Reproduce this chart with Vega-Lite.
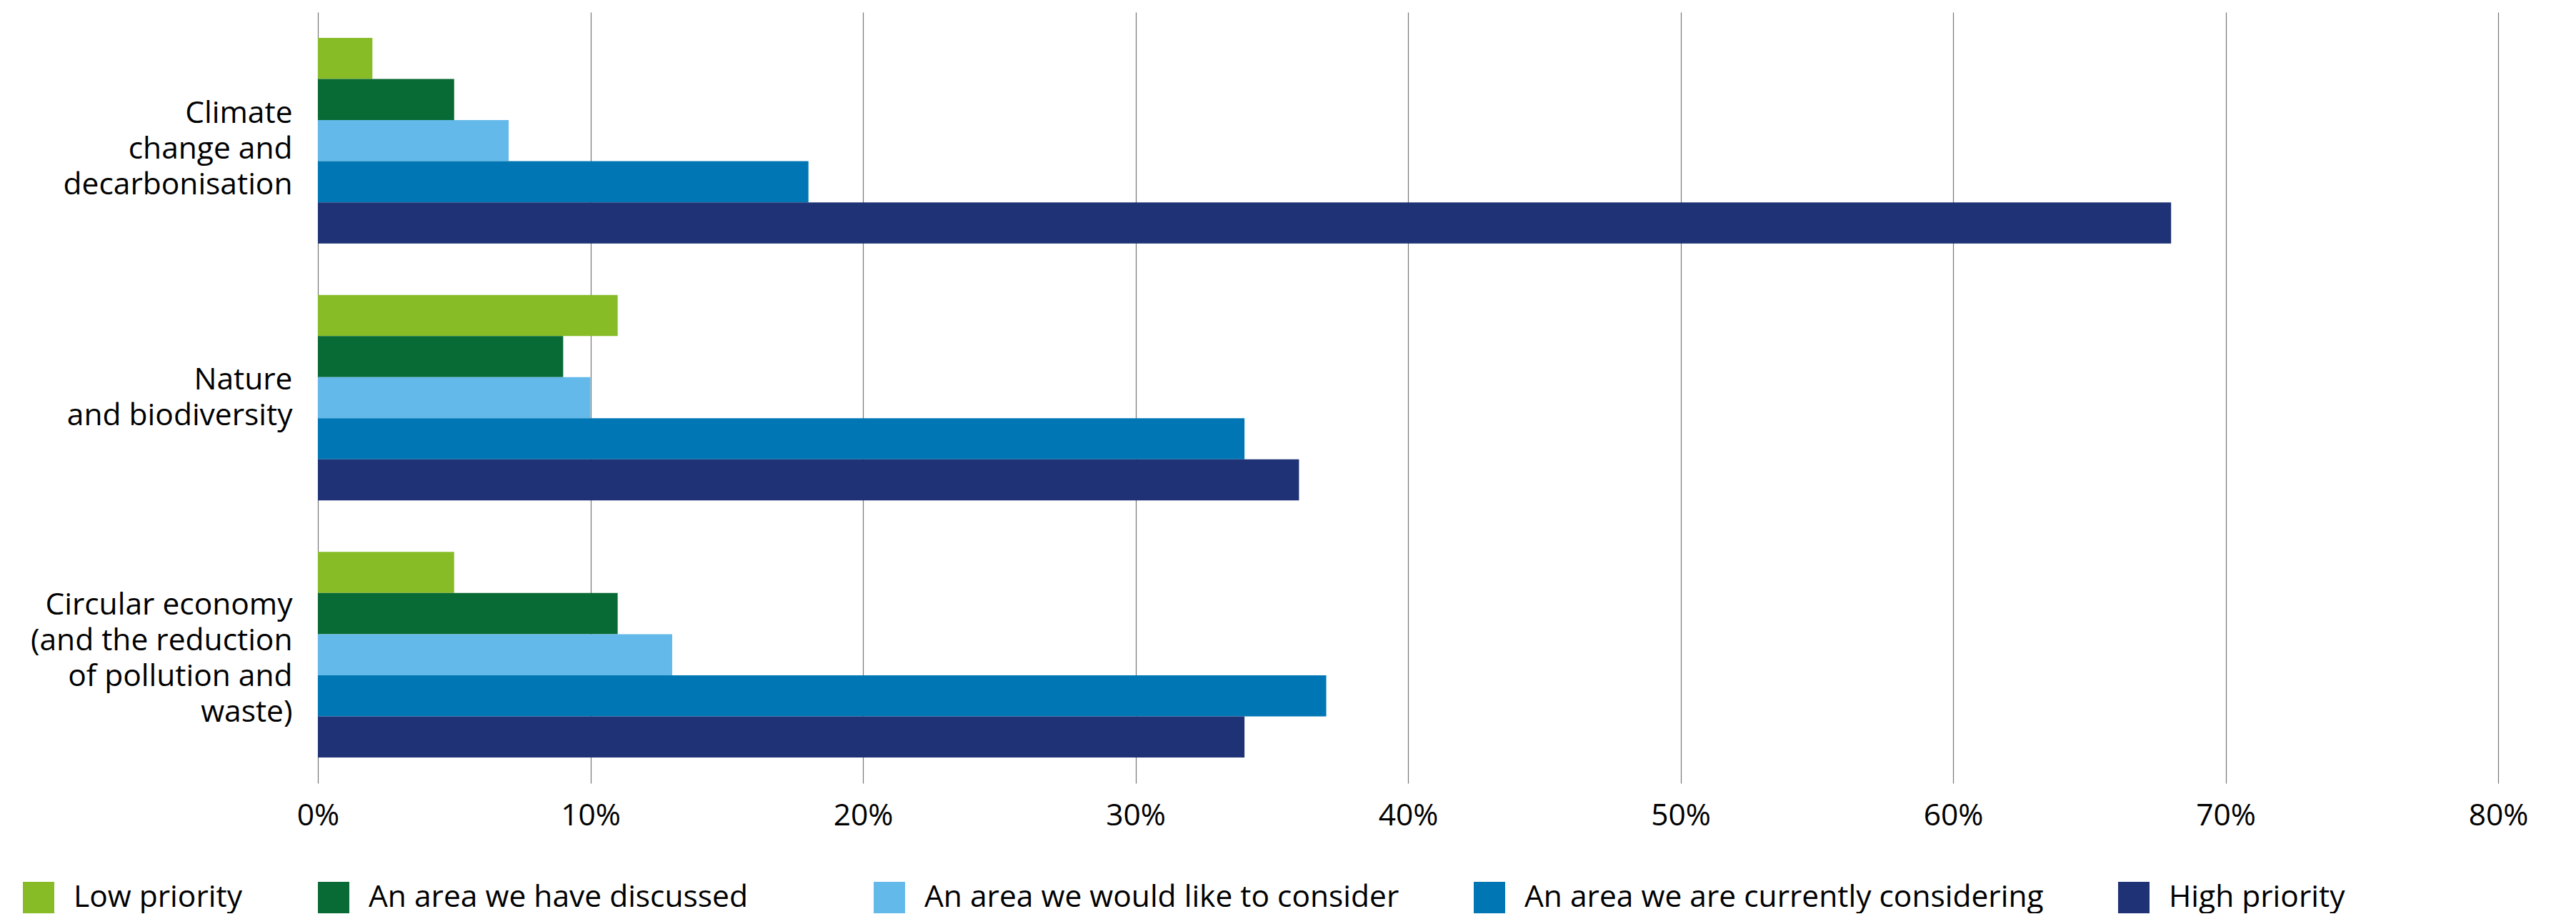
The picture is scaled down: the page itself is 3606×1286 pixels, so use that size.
{
  "$schema": "https://vega.github.io/schema/vega-lite/v6.json",
  "width": 3052,
  "height": 1079,
  "padding": {"left": 0, "top": 17, "right": 60, "bottom": 0},
  "config": {"font": "Open Sans", "view": {"stroke": null}},
  "data": {
    "values": [
      {"topic": "Climate|change and|decarbonisation", "series": "Low priority", "value": 2},
      {"topic": "Climate|change and|decarbonisation", "series": "An area we have discussed", "value": 5},
      {"topic": "Climate|change and|decarbonisation", "series": "An area we would like to consider", "value": 7},
      {"topic": "Climate|change and|decarbonisation", "series": "An area we are currently considering", "value": 18},
      {"topic": "Climate|change and|decarbonisation", "series": "High priority", "value": 68},
      {"topic": "Nature|and biodiversity", "series": "Low priority", "value": 11},
      {"topic": "Nature|and biodiversity", "series": "An area we have discussed", "value": 9},
      {"topic": "Nature|and biodiversity", "series": "An area we would like to consider", "value": 10},
      {"topic": "Nature|and biodiversity", "series": "An area we are currently considering", "value": 34},
      {"topic": "Nature|and biodiversity", "series": "High priority", "value": 36},
      {"topic": "Circular economy|(and the reduction|of pollution and|waste)", "series": "Low priority", "value": 5},
      {"topic": "Circular economy|(and the reduction|of pollution and|waste)", "series": "An area we have discussed", "value": 11},
      {"topic": "Circular economy|(and the reduction|of pollution and|waste)", "series": "An area we would like to consider", "value": 13},
      {"topic": "Circular economy|(and the reduction|of pollution and|waste)", "series": "An area we are currently considering", "value": 37},
      {"topic": "Circular economy|(and the reduction|of pollution and|waste)", "series": "High priority", "value": 34}
    ]
  },
  "encoding": {
    "y": {
      "field": "topic",
      "type": "nominal",
      "sort": ["Climate|change and|decarbonisation", "Nature|and biodiversity", "Circular economy|(and the reduction|of pollution and|waste)"],
      "scale": {"paddingInner": 0.2, "paddingOuter": 0.1},
      "axis": {
        "title": null,
        "labelExpr": "split(datum.label, '|')",
        "labelFontSize": 42.5,
        "labelLineHeight": 50,
        "labelColor": "#000000",
        "labelAlign": "right",
        "labelBaseline": "middle",
        "labelPadding": 36,
        "labelLimit": 1000,
        "labelOffset": {
          "condition": [
            {"test": "indexof(datum.value, 'Climate') === 0", "value": -38},
            {"test": "indexof(datum.value, 'Nature') === 0", "value": -25}
          ],
          "value": -69
        },
        "ticks": false,
        "domain": false,
        "grid": false,
        "minExtent": 445,
        "maxExtent": 445
      }
    },
    "yOffset": {
      "field": "series",
      "type": "nominal",
      "scale": {
        "domain": ["Low priority", "An area we have discussed", "An area we would like to consider", "An area we are currently considering", "High priority"],
        "paddingInner": 0,
        "paddingOuter": 0
      }
    },
    "x": {
      "field": "value",
      "type": "quantitative",
      "scale": {"domain": [0, 80], "nice": false},
      "axis": {
        "title": null,
        "values": [0, 10, 20, 30, 40, 50, 60, 70, 80],
        "labelExpr": "datum.value + '%'",
        "labelFontSize": 42.5,
        "labelColor": "#000000",
        "labelPadding": 24,
        "labelFlush": false,
        "ticks": false,
        "domain": false,
        "grid": true,
        "gridColor": "#777777",
        "gridWidth": 1.2
      }
    }
  },
  "layer": [
    {
      "transform": [{"filter": "datum.series == 'Low priority' || datum.series == 'An area we have discussed'"}],
      "mark": {"type": "bar", "strokeWidth": 0},
      "encoding": {
        "fill": {
          "field": "series",
          "type": "nominal",
          "scale": {
            "domain": ["Low priority", "An area we have discussed"],
            "range": ["#88bc27", "#086a34"]
          },
          "legend": {
            "title": null,
            "orient": "none",
            "legendX": -413,
            "legendY": 1217,
            "direction": "horizontal",
            "symbolType": "square",
            "symbolSize": 1936,
            "symbolStrokeWidth": 0,
            "symbolOpacity": 1,
            "labelFontSize": 42.5,
            "labelColor": "#000000",
            "labelOffset": 27,
            "labelLimit": 1000,
            "columnPadding": 106
          }
        }
      }
    },
    {
      "transform": [{"filter": "datum.series != 'Low priority' && datum.series != 'An area we have discussed'"}],
      "mark": {"type": "bar", "strokeWidth": 0},
      "encoding": {
        "color": {
          "field": "series",
          "type": "nominal",
          "scale": {
            "domain": ["An area we would like to consider", "An area we are currently considering", "High priority"],
            "range": ["#63b9e9", "#0077b4", "#1e3275"]
          },
          "legend": {
            "title": null,
            "orient": "none",
            "legendX": 778,
            "legendY": 1217,
            "direction": "horizontal",
            "symbolType": "square",
            "symbolSize": 1936,
            "symbolStrokeWidth": 0,
            "symbolOpacity": 1,
            "labelFontSize": 42.5,
            "labelColor": "#000000",
            "labelOffset": 27,
            "labelLimit": 1000,
            "columnPadding": 104
          }
        }
      }
    }
  ]
}
